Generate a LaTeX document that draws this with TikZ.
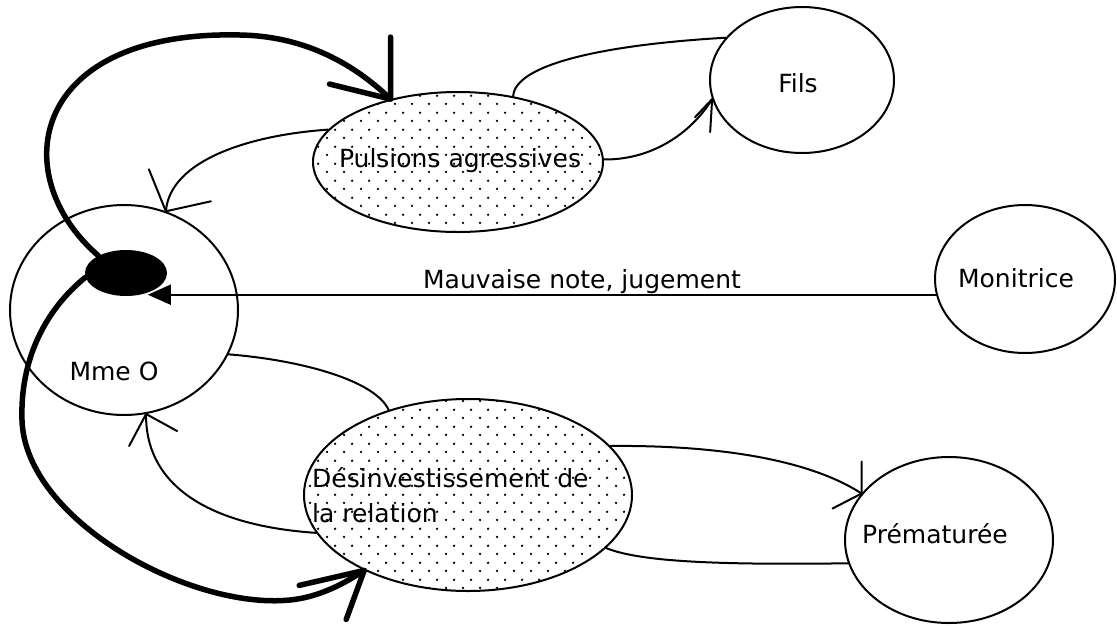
\documentclass[tikz,border=0pt]{standalone}
\usepackage{fontspec}
\setmainfont{DejaVu Sans}
\usetikzlibrary{shapes.geometric,patterns.meta,arrows.meta,calc}

\tikzdeclarepattern{
  name=mydots, type=uncolored,
  bounding box={(0pt,0pt) and (17pt,16.6pt)},
  tile size={(17pt,16.6pt)},
  code={\fill (4.25pt,4.15pt) circle (1.35pt); \fill (12.75pt,12.45pt) circle (1.35pt);}
}

\begin{document}
\begin{tikzpicture}[x=1pt,y=-1pt,
  bub/.style={ellipse, draw, line width=2pt, inner sep=0pt},
  dotbub/.style={bub, pattern=mydots},
  txt/.style={font=\fontsize{25}{30}\selectfont, inner sep=0pt, anchor=base},
  txtw/.style={font=\fontsize{25}{30}\selectfont, inner sep=0pt, anchor=base west},
  conn/.style={line width=2pt, line cap=round, line join=round},
  heavy/.style={line width=5.5pt, line cap=round, line join=round},
]
\fill[white] (0,0) rectangle (1117,625);
\useasboundingbox (0,0) rectangle (1117,625);

% nodes
\node[bub, minimum width=228pt, minimum height=210pt] (mme) at (124,310) {};
\node[ellipse, fill=black, inner sep=0pt, minimum width=82pt, minimum height=46pt] (blob) at (126,273) {};
\node[dotbub, minimum width=290pt, minimum height=140pt] (puls) at (458,162) {};
\node[bub, minimum width=184pt, minimum height=146pt] (fils) at (802,80) {};
\node[bub, minimum width=180pt, minimum height=148pt] (monit) at (1025,279) {};
\node[dotbub, minimum width=328pt, minimum height=192pt] (desinv) at (468,495) {};
\node[bub, minimum width=208pt, minimum height=166pt] (prem) at (949,540) {};

% texts
\node[txt] (mmetxt) at (114,380) {Mme O};
\node[txt] (pulstxt) at (460,167) {Pulsions agressives};
\node[txt] (filstxt) at (798,92) {Fils};
\node[txt] (monittxt) at (1016,287) {Monitrice};
\node[txtw] (desinvA) at (312,487) {Désinvestissement de};
\node[txtw] (desinvB) at (312,522) {la relation};
\node[txt] (premtxt) at (935,543) {Prématurée};
\node[txt] (mauvtxt) at (582,288) {Mauvaise note, jugement};

% Monitrice -> Mme O
\draw[conn, line cap=butt, -{Triangle[length=23pt,width=20pt]}] (monit.190) -- (blob.-42 |- monit.190);

% Pulsions -> Fils
\draw[conn] (puls.50) .. controls (515,65) and (600,45) .. (fils.151);
\draw[conn] (puls.1) .. controls (650,160) and (690,135) .. (fils.192);
\draw[conn] ($(fils.192)+(-17,18)$) -- (fils.192) -- ($(fils.192)+(-2,33)$);

% Pulsions -> Mme O
\draw[conn] (puls.166) .. controls (250,135) and (170,160) .. (mme.67);
\draw[conn] ($(mme.67)+(-17,-42)$) -- (mme.67) -- ($(mme.67)+(45,-10)$);

% Mme O -- Desinvestissement
\draw[conn] (mme.-23) .. controls (300,360) and (375,380) .. (desinv.133);

% Desinvestissement -> Mme O
\draw[conn] (desinv.194) .. controls (200,525) and (145,480) .. (mme.-78);
\draw[conn] ($(mme.-78)+(-17,32)$) -- (mme.-78) -- ($(mme.-78)+(31,17)$);

% Desinvestissement -> Prematuree
\draw[conn] (desinv.19) .. controls (720,445) and (810,460) .. (prem.152);
\draw[conn] ($(prem.152)+(0,-32)$) -- (prem.152) -- ($(prem.152)+(-29,15)$);
\draw[conn] (desinv.-21) .. controls (640,562) and (720,565) .. (prem.193);

% thick curves from the black blob
\draw[heavy] (blob.148) .. controls (5,175) and (30,30) .. (240,35)
  .. controls (300,36) and (350,60) .. (puls.137);
\draw[heavy] ($(puls.137)+(0,-62)$) -- (puls.137) -- ($(puls.137)+(-61,-15)$);

\draw[heavy] (blob.186) .. controls (45,310) and (20,360) .. (22,420)
  .. controls (25,520) and (190,610) .. (290,600)
  .. controls (320,597) and (345,583) .. (desinv.216);
\draw[heavy] ($(desinv.216)+(-65,15)$) -- (desinv.216) -- ($(desinv.216)+(-18,49)$);
\end{tikzpicture}
\end{document}
